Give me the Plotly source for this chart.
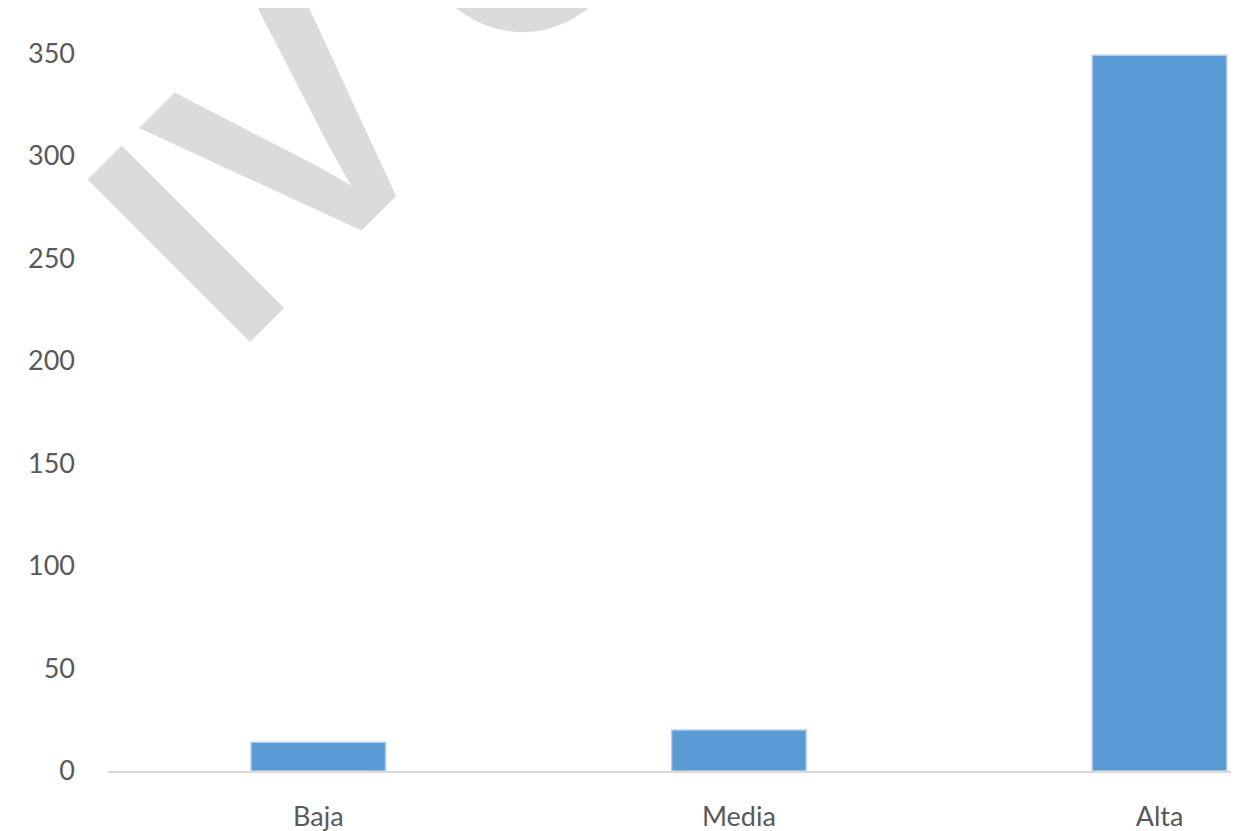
import plotly.graph_objects as go

categories = ["Baja", "Media", "Alta"]
values = [14, 20, 349]
y_ticks = [0, 50, 100, 150, 200, 250, 300, 350]

fig = go.Figure()
fig.add_trace(go.Bar(
    x=categories, y=values,
    marker=dict(color="#5B9BD5", line=dict(color="#b3cfec", width=1.5)),
    width=0.32,
))

wm_font = dict(family="Liberation Sans", size=334, color="#dbdbdb")
fig.add_annotation(
    text="<b>IV</b>", xref="paper", yref="paper", x=0.138, y=0.7955,
    xanchor="center", yanchor="middle",
    showarrow=False, textangle=-45, font=wm_font,
)
fig.add_annotation(
    text="<b>O</b>", xref="paper", yref="paper", x=0.364, y=1.128,
    xanchor="center", yanchor="middle",
    showarrow=False, textangle=-45, font=wm_font,
)

# page has an 8px body margin; figure is sized/offset to compensate
fig.update_layout(
    width=1231, height=823,
    margin=dict(l=100, r=0, t=0, b=60),
    paper_bgcolor="white", plot_bgcolor="white",
    showlegend=False,
    font=dict(family="Lato", size=27, color="#595959"),
    xaxis=dict(range=[-0.5, 2.189], showline=True, linecolor="#d9d9d9", linewidth=2,
               showgrid=False, ticks="", ticklabelstandoff=21, automargin=False,
               fixedrange=True),
    yaxis=dict(range=[0, 372.0], tickvals=y_ticks, showgrid=False, zeroline=False,
               showline=False, ticks="", ticklabelstandoff=32, automargin=False),
)

fig.write_html("out.html")
